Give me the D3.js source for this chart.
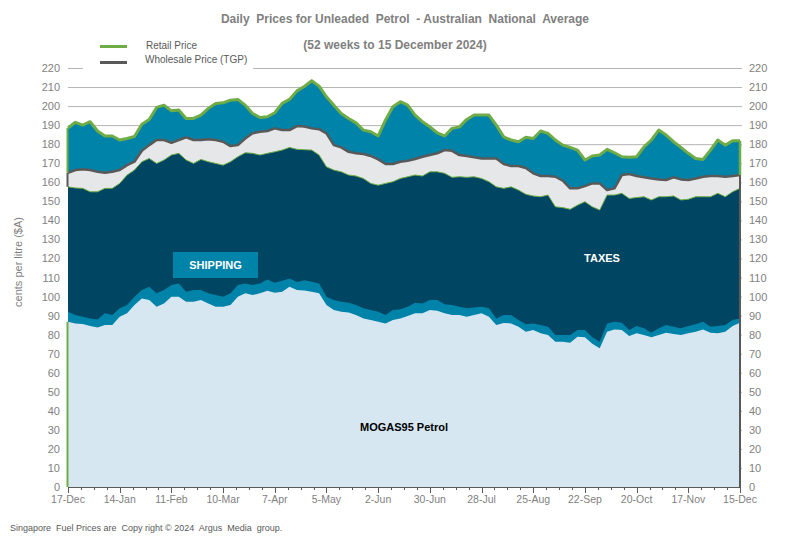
<!DOCTYPE html>
<html><head><meta charset="utf-8">
<script src="https://cdn.jsdelivr.net/npm/d3@7"></script>
<style>
html,body{margin:0;padding:0;background:#fff;}
svg{display:block;font-family:"Liberation Sans",Arial,sans-serif;}
</style></head>
<body>
<svg id="chart" width="790" height="538"></svg>
<script>
// ---- data (cents per litre), sampled every 4 days from 17-Dec-2023 ----
const startDate = "2023-12-17";
const stepDays = 4;
const retail = [188.5,191.5,190,191.8,186.9,184.3,184.3,182.2,183,184,190.5,193,199.3,200.5,197.5,198,193.5,193.5,195.3,198.8,201.4,201.7,203.1,203.5,200.5,196.1,194,194.4,196.5,201.4,203.5,208,210.3,213.3,210.5,204.9,200.5,196.1,193.5,191.2,187.4,186.5,184.3,192.7,199.6,202.3,200.5,195.3,191.8,189.1,186,184.3,188.3,189.1,193,195.3,195.3,195.3,190,183.9,182.2,181.3,183.6,183,186.9,185.7,182.2,179.5,178.3,176.9,171.7,173.8,174.3,177.3,175.5,173.4,173.1,173.4,178.6,182.2,187.4,184.8,181.3,178.3,175.2,172.5,172,176.9,182.2,179.5,181.8,181.8];
const wholesale = [165,166.4,166.8,166.4,165.5,165,165.5,166.4,169,170.8,176.5,179.5,182.2,182.2,180.7,182.2,183.6,182.2,182.2,182.6,182.2,181.3,179,179.5,183,185.7,186.5,186.9,188.3,187.4,187.4,189.5,189.3,188.3,187.9,185.7,179.5,178.3,176,175.2,174.8,173.8,172,169.6,169.6,170.8,171.3,172.2,173.4,174.3,175.2,176.9,176.5,174.3,173.8,173.1,172.5,172.5,172.5,169.6,168.5,168.5,167.5,164.7,163.3,163.3,162.9,160.8,156.8,156.8,158,159.4,159.4,155.9,156.8,163.8,164.3,163.3,162.6,162,161.5,161.2,162.6,161.5,161.2,162,162.9,163.3,163.3,162.9,163.3,163.8];
const taxesTop = [157.6,157,156.8,155,155,156.8,156.8,159.4,163.8,166.4,170.8,172.5,169.9,171.7,174.3,175.2,171.7,169.9,172,170.8,169.9,169,170.8,173.4,175.5,175.2,174.3,175.2,176,176.9,178.3,177.3,177.1,176.9,174.3,168.1,166.4,165.5,163.8,163.3,162,159.4,158.5,159.4,160.3,162,162.9,163.8,163.3,165.5,165.5,164.7,162.6,162.9,162.6,162.9,162,160.3,157.6,156.8,157.6,155.9,153.7,152.8,152.4,153.3,147.1,146.7,145.8,148,149.8,147.1,145.4,153.3,153.3,154.2,151.5,152,152.4,150.7,152.4,152.4,152.8,150.7,151.1,152.4,152.4,152.4,154.2,152.4,155,156.8];
const shippingTop = [92,90.3,89.4,88.5,88,91.2,90.3,93.8,95.5,99.9,103.4,105.1,101.7,103.4,106,106.9,102.5,103.4,103.4,101.7,100.8,99.9,101.7,106,106.9,106,106.9,109,107.3,108.3,109.5,107.7,108.6,107.8,106.9,99.9,98.2,97.3,96.7,95.5,93.8,92.9,92,90.3,92.9,93.3,94.6,96.7,96.4,98.2,98.2,96,95.5,94.6,93.8,94.3,94.6,93.8,88.5,90.3,90.3,87.7,85.5,85.9,85,84.1,79.8,79.8,79.8,82.4,82.4,78.6,76.3,85.9,86.8,86.3,82.4,84.5,83.3,81,83.3,85,84.1,83.3,84.5,85.5,86.8,84.1,84.5,85,87.7,88.5];
const mogas = [86.8,85.8,85.6,84.5,83.8,85,85,89.4,91.2,95.5,99,98.2,94.6,96.4,99.9,99.9,97.3,97.3,98.2,96.4,94.6,94.6,95.5,99.9,101.7,100.8,101.7,103,102,102.5,105.1,103.4,103.2,102.5,101.7,95.5,92.9,92,91.6,90.3,88.5,87.7,86.8,85.9,87.7,88.5,89.8,91.2,91.2,92.9,92.6,91.2,90.3,90.3,89.4,90.3,91.2,89.4,85,86.1,85.9,84.1,81.5,82.4,80.7,79.8,76.3,76.3,75.8,78.9,78.6,75.2,72.8,81.5,82.7,82.4,79.3,80.7,79.8,78.6,79.8,81,80.3,79.8,80.7,81.5,82.7,81,80.7,81.5,84.5,86.3];
const yTicks = d3.range(0, 221, 10);
const xTickLabels = ["17-Dec","14-Jan","11-Feb","10-Mar","7-Apr","5-May","2-Jun","30-Jun","28-Jul","25-Aug","22-Sep","20-Oct","17-Nov","15-Dec"];

const colors = {
  retailMargin:"#0083a9", wholesaleMargin:"#e6e7e9", taxes:"#004662",
  shipping:"#0083a9", mogas:"#d6e7f1", green:"#6fac46", gray:"#595959",
  grid:"#b4b4b4", text:"#7f7f7f"
};

const parse = d3.timeParse("%Y-%m-%d");
const t0 = parse(startDate);
const rows = retail.map((r,i)=>({
  date: d3.timeDay.offset(t0, i*stepDays),
  retail:r, wholesale:wholesale[i], taxesTop:taxesTop[i], shippingTop:shippingTop[i], mogas:mogas[i]
}));
const tEnd = d3.timeDay.offset(t0, 364);

const svg = d3.select("#chart");
const m = {left:68, right:740, top:68, bottom:487};
const x = d3.scaleTime().domain([t0, tEnd]).range([m.left, m.right]);
const y = d3.scaleLinear().domain([0,220]).range([m.bottom, m.top]);

// gridlines
svg.append("g").selectAll("line").data(yTicks.filter(v=>v>0)).join("line")
  .attr("x1", m.left).attr("x2", m.right+2)
  .attr("y1", d=>y(d)+0.5).attr("y2", d=>y(d)+0.5)
  .attr("stroke", colors.grid).attr("stroke-width",1);

const area = key => d3.area().x(d=>x(d.date)).y0(y(0)).y1(d=>y(d[key]));
const line = key => d3.line().x(d=>x(d.date)).y(d=>y(d[key]));

const layers = [
  ["retail", colors.retailMargin],
  ["wholesale", colors.wholesaleMargin],
  ["taxesTop", colors.taxes],
  ["shippingTop", colors.shipping],
  ["mogas", colors.mogas]
];
layers.forEach(([k,c])=>{
  svg.append("path").datum(rows).attr("d", area(k)).attr("fill", c);
});
svg.append("path").datum(rows).attr("d", line("taxesTop")).attr("fill","none")
  .attr("stroke", colors.green).attr("stroke-width",1);
svg.append("path").datum(rows).attr("d", line("wholesale")).attr("fill","none")
  .attr("stroke", colors.gray).attr("stroke-width",2.5).attr("stroke-linejoin","round");
svg.append("path").datum(rows).attr("d", line("retail")).attr("fill","none")
  .attr("stroke", colors.green).attr("stroke-width",3).attr("stroke-linejoin","round");

// edges
const first = rows[0], last = rows[rows.length-1];
const edge = (xv, v0, v1, c, w) => svg.append("line").attr("x1",xv).attr("x2",xv)
  .attr("y1",y(v0)).attr("y2",y(v1)).attr("stroke",c).attr("stroke-width",w);
edge(x(first.date)-0.5, 0, first.mogas, colors.green, 2);
edge(x(first.date)-0.5, first.taxesTop, first.wholesale, colors.gray, 2);
edge(x(first.date)-0.5, first.wholesale, first.retail, colors.green, 2);
edge(x(last.date), 0, last.wholesale, colors.gray, 2);
edge(x(last.date), last.wholesale, last.retail, colors.green, 2.5);

// x axis
const majorTicks = d3.range(0,14).map(i=>d3.timeDay.offset(t0, i*28));
const minorTicks = d3.range(0,53).map(i=>d3.timeDay.offset(t0, i*7));
const xg = svg.append("g");
xg.append("line").attr("x1",m.left).attr("x2",m.right).attr("y1",m.bottom+0.5).attr("y2",m.bottom+0.5)
  .attr("stroke",colors.gray).attr("stroke-width",1);
xg.selectAll(".mn").data(minorTicks).join("line")
  .attr("x1",d=>Math.round(x(d))+0.5).attr("x2",d=>Math.round(x(d))+0.5)
  .attr("y1",m.bottom).attr("y2",m.bottom+3).attr("stroke",colors.gray);
xg.selectAll(".mj").data(majorTicks).join("line")
  .attr("x1",d=>Math.round(x(d))+0.5).attr("x2",d=>Math.round(x(d))+0.5)
  .attr("y1",m.bottom).attr("y2",m.bottom+6).attr("stroke",colors.gray);
xg.selectAll("text").data(majorTicks).join("text")
  .attr("x",d=>x(d)).attr("y",m.bottom+16).attr("text-anchor","middle")
  .attr("font-size",10.5).attr("fill",colors.text)
  .text((d,i)=>xTickLabels[i]);

// y labels both sides
const yl = svg.append("g").attr("font-size",11).attr("fill",colors.text);
yl.selectAll(".l").data(yTicks).join("text").attr("x",60).attr("y",d=>y(d)+4)
  .attr("text-anchor","end").text(d=>d);
yl.selectAll(".r").data(yTicks).join("text").attr("x",749).attr("y",d=>y(d)+4)
  .attr("text-anchor","start").text(d=>d);

svg.append("text").attr("transform","translate(22,262) rotate(-90)")
  .attr("text-anchor","middle").attr("font-size",11).attr("fill",colors.text)
  .text("cents per litre ($A)");

// legend
svg.append("rect").attr("x",83).attr("y",36).attr("width",170).attr("height",36).attr("fill","#fff");
svg.append("line").attr("x1",100).attr("x2",127).attr("y1",46.5).attr("y2",46.5)
  .attr("stroke",colors.green).attr("stroke-width",3);
svg.append("line").attr("x1",100).attr("x2",127).attr("y1",62.5).attr("y2",62.5)
  .attr("stroke",colors.gray).attr("stroke-width",3);
svg.append("text").attr("x",146).attr("y",49).attr("font-size",10).attr("fill",colors.gray).text("Retail Price");
svg.append("text").attr("x",145).attr("y",63).attr("font-size",10).attr("fill",colors.gray).text("Wholesale Price (TGP)");

// titles
svg.append("text").attr("x",405).attr("y",23).attr("text-anchor","middle")
  .attr("font-size",12).attr("font-weight","bold").attr("fill",colors.text)
  .attr("xml:space","preserve")
  .text("Daily  Prices for Unleaded  Petrol  - Australian  National  Average");
svg.append("text").attr("x",395).attr("y",49).attr("text-anchor","middle")
  .attr("font-size",12).attr("font-weight","bold").attr("fill",colors.text)
  .text("(52 weeks to 15 December 2024)");

// labels
svg.append("rect").attr("x",173).attr("y",252).attr("width",85).attr("height",26).attr("fill",colors.shipping);
svg.append("text").attr("x",215.5).attr("y",269).attr("text-anchor","middle").attr("font-size",11)
  .attr("font-weight","bold").attr("fill","#fff").text("SHIPPING");
svg.append("text").attr("x",602).attr("y",262).attr("text-anchor","middle").attr("font-size",11)
  .attr("font-weight","bold").attr("fill","#fff").text("TAXES");
svg.append("text").attr("x",404).attr("y",431).attr("text-anchor","middle").attr("font-size",11)
  .attr("font-weight","bold").attr("fill","#000").text("MOGAS95 Petrol");

svg.append("text").attr("x",10).attr("y",531).attr("font-size",9).attr("fill",colors.gray)
  .attr("xml:space","preserve")
  .text("Singapore  Fuel Prices are  Copy right © 2024  Argus  Media  group.");
</script>
</body></html>
